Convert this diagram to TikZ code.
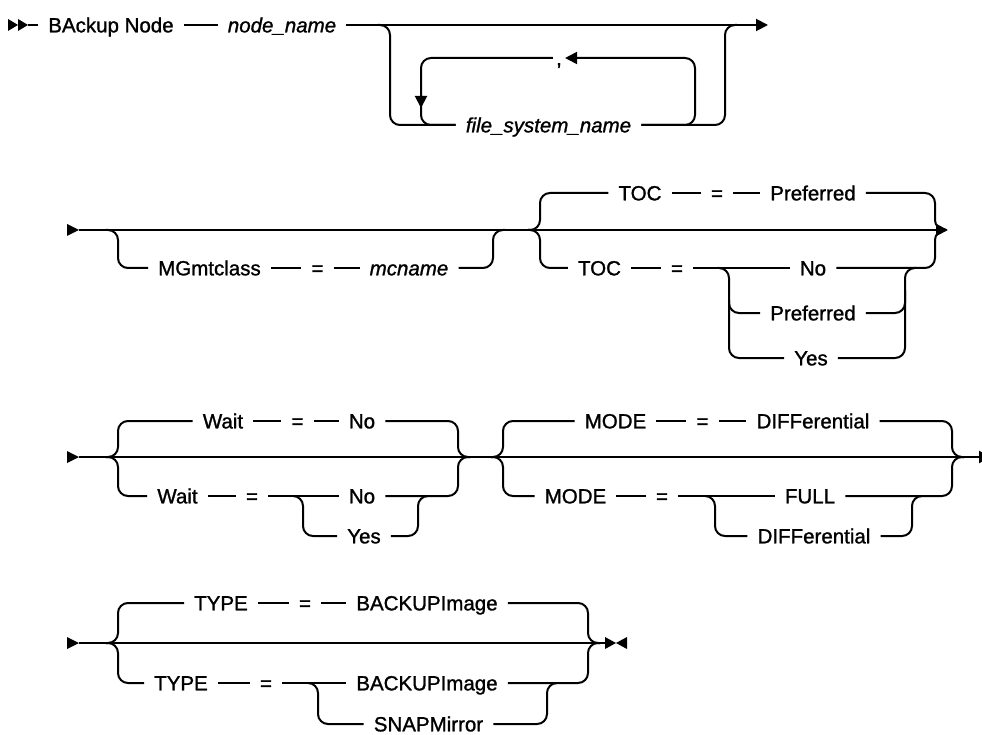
\documentclass[tikz,border=0pt]{standalone}
\usepackage{fontspec}
\setmainfont{Liberation Sans}
\newfontfamily\railfam{Liberation Sans}[FakeBold=1.2]
\usetikzlibrary{arrows.meta}
\newcommand\railfont{\railfam\fontsize{20.5pt}{24pt}\selectfont}
\begin{document}
\begin{tikzpicture}[x=1pt,y=-1pt,
  kw/.style={font=\railfont, inner xsep=10pt, inner ysep=0pt, text height=14.7pt, text depth=0pt},
  var/.style={kw, font=\railfont\itshape},
  rail/.style={line width=2pt},
  rc/.style={rail, rounded corners=10pt},
  tip/.style={-{Triangle[length=12pt,width=12pt]}},
]
\fill[white] (0,0) rectangle (982,735);
\useasboundingbox (0,0) rectangle (982,735);

% ---------------- Row 1 ----------------
\fill (8,19) -- (18,25) -- (8,31) -- cycle;
\fill (18,19) -- (28,25) -- (18,31) -- cycle;
\coordinate (s1) at (28,25);
\coordinate (e1) at (768,25);
\node[kw] (bn) at (111,25) {BAckup Node};
\node[var] (nn) at (282,25) {node\_name};
\node[var] (fs) at (548.5,125) {file\_system\_name};
\node[kw, inner xsep=3pt] (cm) at (559,58) {,};
\coordinate (j1a) at (378,25);
\coordinate (j1b) at (737,25);
\coordinate (dn) at (421,108);
\draw[rail] (s1) -- (bn) -- (nn);
\draw[rail,tip] (nn) -- (e1);
\draw[rc] (j1a) -| (390,125) -- (fs);
\draw[rc] (fs) -| (725,25) -- (j1b);
\draw[rc,tip] (fs) -| (695,58) -- (cm);
\draw[rc,tip] (cm) -| (dn);
\draw[rc] (421,95) |- (fs);

% ---------------- Row 2 ----------------
\fill (67,224) -- (79,230) -- (67,236) -- cycle;
\coordinate (s2) at (79,230);
\coordinate (e2) at (948,230);
\draw[rail,tip] (s2) -- (e2);
\node[kw] (mg) at (209.5,268) {MGmtclass};
\node[kw] (mgq) at (317.5,268) {=};
\node[var] (mc) at (409,268) {mcname};
\draw[rc] (106,230) -| (118,268) -- (mg);
\draw[rail] (mg) -- (mgq) -- (mc);
\draw[rc] (mc) -| (493,230) -- (505,230);

\node[kw] (t1) at (640,193) {TOC};
\node[kw] (t1q) at (717,193) {=};
\node[kw] (t1p) at (813,193) {Preferred};
\node[kw] (t2) at (599.5,268) {TOC};
\node[kw] (t2q) at (677,268) {=};
\node[kw] (t2n) at (813,268) {No};
\node[kw] (t2p) at (813,313) {Preferred};
\node[kw] (t2y) at (811,358) {Yes};
\draw[rc] (528,230) -| (540,193) -- (t1);
\draw[rc] (528,230) -| (540,268) -- (t2);
\draw[rail] (t1) -- (t1q) -- (t1p);
\draw[rail] (t2) -- (t2q) -- (t2n);
\draw[rc] (t1p) -| (935,230) -- (946,230);
\draw[rc] (t2n) -| (935,230) -- (946,230);
\draw[rc] (718,268) -| (729,313) -- (t2p);
\draw[rc] (729,300) |- (t2y);
\draw[rc] (t2p) -| (905,268) -- (916,268);
\draw[rc] (t2y) -| (905,290);

% ---------------- Row 3 ----------------
\fill (67,451) -- (79,457) -- (67,463) -- cycle;
\coordinate (s3) at (79,457);
\coordinate (e3) at (991,457);
\draw[rail,tip] (s3) -- (e3);
\node[kw] (w1) at (223,421) {Wait};
\node[kw] (w1q) at (297.5,421) {=};
\node[kw] (w1n) at (362,421) {No};
\node[kw] (w2) at (177.5,496) {Wait};
\node[kw] (w2q) at (252,496) {=};
\node[kw] (w2n) at (362,496) {No};
\node[kw] (w2y) at (364,536) {Yes};
\draw[rc] (106,457) -| (118,421) -- (w1);
\draw[rc] (106,457) -| (118,496) -- (w2);
\draw[rail] (w1) -- (w1q) -- (w1n);
\draw[rail] (w2) -- (w2q) -- (w2n);
\draw[rc] (w1n) -| (458,457) -- (470,457);
\draw[rc] (w2n) -| (458,457) -- (470,457);
\draw[rc] (293,496) -| (303,536) -- (w2y);
\draw[rc] (w2y) -| (418,496) -- (428,496);

\node[kw] (m1) at (615.5,421) {MODE};
\node[kw] (m1q) at (702.5,421) {=};
\node[kw] (m1d) at (813,421) {DIFFerential};
\node[kw] (m2) at (575.5,496) {MODE};
\node[kw] (m2q) at (662,496) {=};
\node[kw] (m2f) at (810,496) {FULL};
\node[kw] (m2d) at (814,536) {DIFFerential};
\draw[rc] (491,457) -| (503,421) -- (m1);
\draw[rc] (491,457) -| (503,496) -- (m2);
\draw[rail] (m1) -- (m1q) -- (m1d);
\draw[rail] (m2) -- (m2q) -- (m2f);
\draw[rc] (m1d) -| (952,457) -- (964,457);
\draw[rc] (m2f) -| (952,457) -- (964,457);
\draw[rc] (705,496) -| (715,536) -- (m2d);
\draw[rc] (m2d) -| (912,496) -- (922,496);

% ---------------- Row 4 ----------------
\fill (67,637) -- (79,643) -- (67,649) -- cycle;
\coordinate (s4) at (79,643);
\coordinate (e4) at (605,643);
\draw[rail] (s4) -- (e4);
\fill (605,637) -- (616,643) -- (605,649) -- cycle;
\fill (627,637) -- (616,643) -- (627,649) -- cycle;
\node[kw] (y1) at (221,603) {TYPE};
\node[kw] (y1q) at (305,603) {=};
\node[kw] (y1b) at (427,603) {BACKUPImage};
\node[kw] (y2) at (181,683) {TYPE};
\node[kw] (y2q) at (266,683) {=};
\node[kw] (y2b) at (427,683) {BACKUPImage};
\node[kw] (y2s) at (428.5,724) {SNAPMirror};
\draw[rc] (106,643) -| (118,603) -- (y1);
\draw[rc] (106,643) -| (118,683) -- (y2);
\draw[rail] (y1) -- (y1q) -- (y1b);
\draw[rail] (y2) -- (y2q) -- (y2b);
\draw[rc] (y1b) -| (588,643) -- (600,643);
\draw[rc] (y2b) -| (588,643) -- (600,643);
\draw[rc] (308,683) -| (318,724) -- (y2s);
\draw[rc] (y2s) -| (547,683) -- (557,683);
\end{tikzpicture}
\end{document}
